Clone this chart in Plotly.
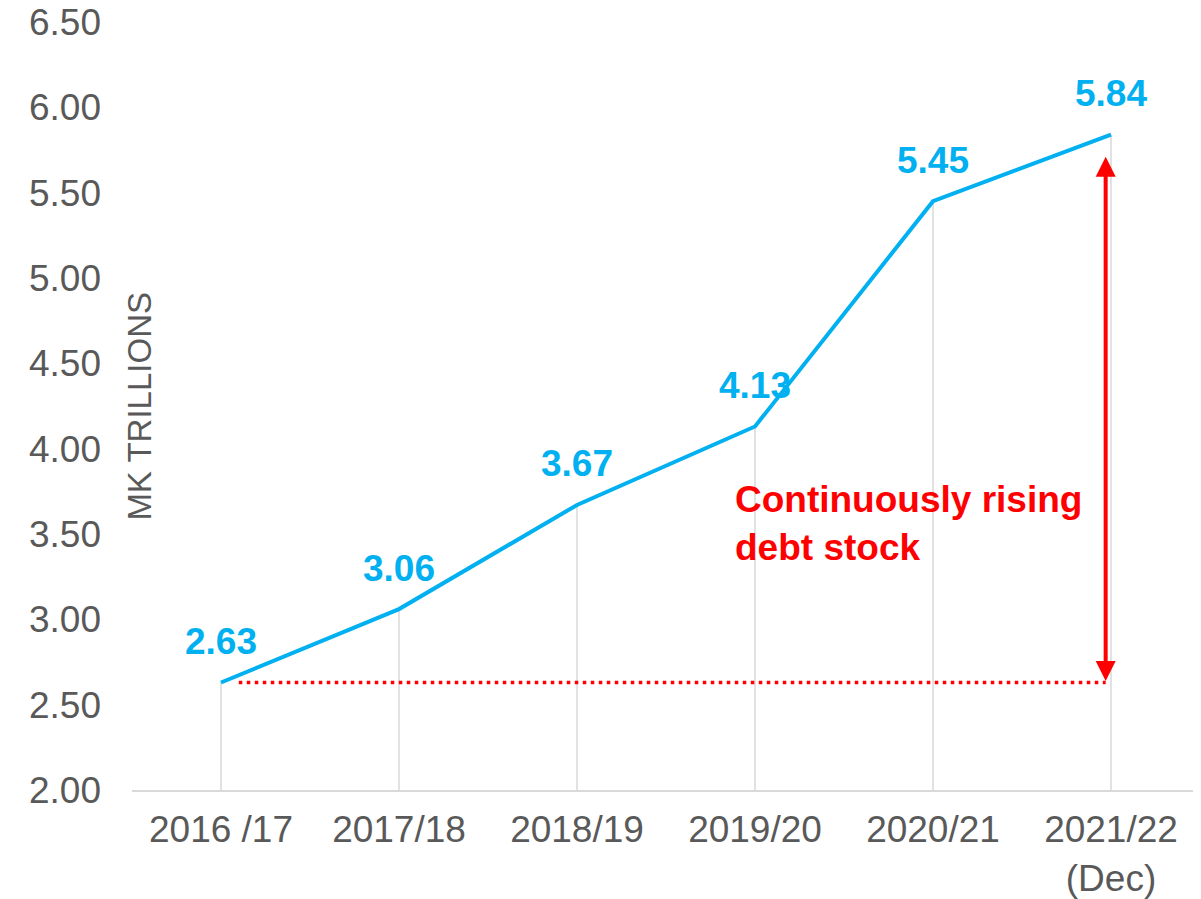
import plotly.graph_objects as go

years = ["2016 /17", "2017/18", "2018/19", "2019/20", "2020/21", "2021/22<br>(Dec)"]
debt_stock = [2.63, 3.06, 3.67, 4.13, 5.45, 5.84]
y_ticks = [2.0, 2.5, 3.0, 3.5, 4.0, 4.5, 5.0, 5.5, 6.0, 6.5]

BLUE = "#00B0F0"
RED = "#FF0000"
GREY = "#595959"
FONT = "Liberation Sans, Arial, sans-serif"

fig = go.Figure()

# drop lines from axis up to each point
drop_x, drop_y = [], []
for yr, v in zip(years, debt_stock):
    drop_x += [yr, yr, None]
    drop_y += [y_ticks[0], v, None]
fig.add_trace(go.Scatter(
    x=drop_x, y=drop_y, mode="lines",
    line=dict(color="#D9D9D9", width=1.5),
    hoverinfo="skip", showlegend=False,
))

fig.add_trace(go.Scatter(
    x=years, y=debt_stock, mode="lines",
    line=dict(color=BLUE, width=4),
    showlegend=False,
))

for yr, v in zip(years, debt_stock):
    fig.add_annotation(
        x=yr, y=v, text=f"<b>{v:.2f}</b>", showarrow=False,
        yshift=41, font=dict(color=BLUE, size=37, family=FONT),
    )

# baseline from the first year
fig.add_shape(
    type="line", xref="x", yref="y",
    x0=0.1, x1=4.97, y0=debt_stock[0], y1=debt_stock[0],
    line=dict(color=RED, width=3.5, dash="3.5px,4.5px"),
)

# double-headed arrow
fig.add_annotation(
    x=4.97, y=5.71, ax=4.97, ay=debt_stock[0],
    xref="x", yref="y", axref="x", ayref="y",
    text="", showarrow=True, arrowside="end+start",
    arrowhead=2, arrowsize=1, arrowwidth=4, arrowcolor=RED,
    standoff=0, startstandoff=0,
)

fig.add_annotation(
    xref="paper", yref="y", x=0.5627, y=3.56,
    xanchor="left", yanchor="middle", align="left", showarrow=False,
    text="<b>Continuously rising<br>debt stock</b>",
    font=dict(color=RED, size=37, family=FONT),
)

fig.add_annotation(
    xref="paper", yref="paper", x=-0.013, y=0.5, textangle=-90,
    xanchor="left", yanchor="middle", showarrow=False,
    text="MK TRILLIONS", font=dict(color=GREY, size=33, family=FONT),
)

fig.update_layout(
    width=1193, height=891,
    margin=dict(l=124, r=1, t=14, b=109),
    plot_bgcolor="white", paper_bgcolor="white",
    font=dict(family=FONT, size=37, color=GREY),
    showlegend=False,
)
fig.update_xaxes(
    type="category", range=[-0.5, 5.5], automargin=False,
    showgrid=False, showline=True, linecolor="#D9D9D9", linewidth=2,
    ticks="", tickfont=dict(size=37, color=GREY), ticklabelstandoff=6,
)
fig.update_yaxes(
    range=[2, 6.5], tickvals=y_ticks, ticktext=[f"{t:.2f}" for t in y_ticks],
    showgrid=False, zeroline=False, showline=False, automargin=False,
    ticks="", tickfont=dict(size=37, color=GREY), ticklabelstandoff=30,
    ticklabeloverflow="allow",
)

fig.write_html("out.html")
